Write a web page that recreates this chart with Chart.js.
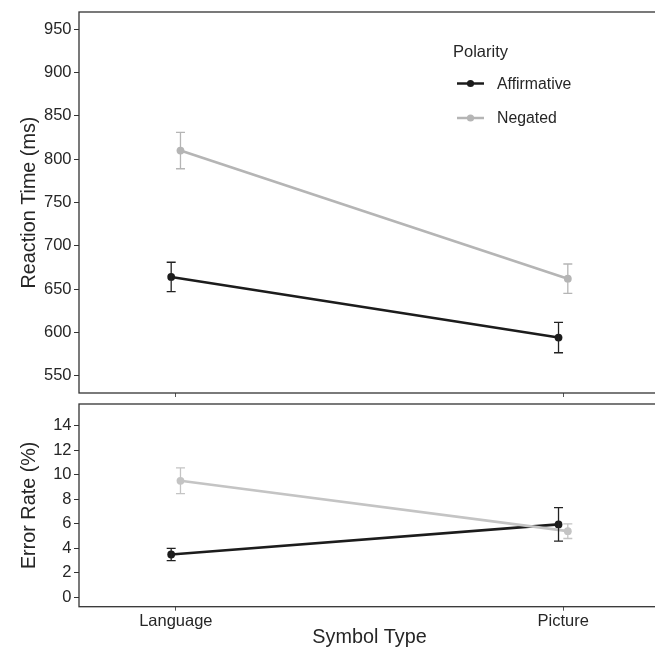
<!DOCTYPE html>
<html><head><meta charset="utf-8">
<script src="https://cdn.jsdelivr.net/npm/chart.js@4.4.1/dist/chart.umd.min.js"></script>
<style>
html,body{margin:0;padding:0;background:#fff;overflow:hidden;width:655px;height:651px}
#c1{position:absolute;left:0;top:0}
#c2{position:absolute;left:0;top:400px}
</style></head>
<body>
<canvas id="c1" width="680" height="400"></canvas>
<canvas id="c2" width="680" height="251"></canvas>
<script>
const categories = ['Language', 'Picture'];
const seriesNames = ['Affirmative', 'Negated'];
const legendTitle = 'Polarity';
// Reaction time (ms): means and error half-widths
const rtAffirmative = [664, 594];
const rtAffirmativeErr = [17, 17.5];
const rtNegated = [810, 662];
const rtNegatedErr = [21, 17];
// Error rate (%): means and error half-widths
const erAffirmative = [3.5, 5.95];
const erAffirmativeErr = [0.5, 1.37];
const erNegated = [9.5, 5.4];
const erNegatedErr = [1.05, 0.6];
const rtTicks = [550, 600, 650, 700, 750, 800, 850, 900, 950];
const erTicks = [0, 2, 4, 6, 8, 10, 12, 14];

const F = '"Liberation Sans", Arial, Helvetica, sans-serif';
const DODGE = 0.012;
const COL_AFF = '#1c1c1c';
const COL_NEG_TOP = '#b5b5b5';
const COL_NEG_BOT = '#c4c4c4';
const TXT = '#262626';

function pts(vals, offset) {
  return vals.map((v, i) => ({ x: i + 1 + offset, y: v }));
}

const errorBars = {
  id: 'errorBars',
  afterDatasetsDraw(chart) {
    const ctx = chart.ctx, ys = chart.scales.y;
    chart.data.datasets.forEach((ds, di) => {
      const meta = chart.getDatasetMeta(di);
      ctx.save();
      ctx.strokeStyle = ds.errColor;
      ctx.lineWidth = 1.3;
      ds.err.forEach((e, i) => {
        const pt = meta.data[i];
        const v = ds.data[i].y;
        const y1 = ys.getPixelForValue(v + e), y2 = ys.getPixelForValue(v - e);
        const x = pt.x;
        ctx.beginPath();
        ctx.moveTo(x, y1); ctx.lineTo(x, y2);
        ctx.moveTo(x - 4.5, y1); ctx.lineTo(x + 4.5, y1);
        ctx.moveTo(x - 4.5, y2); ctx.lineTo(x + 4.5, y2);
        ctx.stroke();
      });
      ctx.restore();
    });
  }
};

const box = {
  id: 'box',
  afterDraw(chart) {
    const a = chart.chartArea, c = chart.ctx;
    c.save();
    c.strokeStyle = '#333';
    c.lineWidth = 1.3;
    c.strokeRect(a.left, a.top, a.right - a.left, a.bottom - a.top);
    c.restore();
  }
};

const legendP = {
  id: 'legendP',
  afterDraw(chart) {
    const c = chart.ctx;
    c.save();
    c.fillStyle = TXT;
    c.textBaseline = 'middle';
    c.textAlign = 'left';
    c.font = '16.5px ' + F;
    c.fillText(legendTitle, 453, 52);
    chart.data.datasets.slice().sort((a, b) => a.legendIndex - b.legendIndex).forEach((ds, i) => {
      const y = 83.5 + i * 34.5;
      c.strokeStyle = ds.borderColor;
      c.lineWidth = 2.5;
      c.beginPath(); c.moveTo(457, y); c.lineTo(484, y); c.stroke();
      c.fillStyle = ds.borderColor;
      c.beginPath(); c.arc(470.5, y, 3.6, 0, Math.PI * 2); c.fill();
      c.fillStyle = TXT;
      c.font = '15.8px ' + F;
      c.fillText(ds.label, 497, y + 1);
    });
    c.restore();
  }
};

function makeDatasets(aff, affErr, neg, negErr, negCol) {
  return [
    { label: seriesNames[1], legendIndex: 1, data: pts(neg, DODGE), err: negErr, errColor: negCol,
      borderColor: negCol, backgroundColor: negCol, pointBackgroundColor: negCol,
      borderWidth: 2.6, pointRadius: 3.9, pointBorderWidth: 0, tension: 0 },
    { label: seriesNames[0], legendIndex: 0, data: pts(aff, -DODGE), err: affErr, errColor: '#222',
      borderColor: COL_AFF, backgroundColor: COL_AFF, pointBackgroundColor: COL_AFF,
      borderWidth: 2.6, pointRadius: 3.9, pointBorderWidth: 0, tension: 0 }
  ];
}

function xScale(showLabels, title) {
  return {
    type: 'linear', min: 0.75, max: 2.25,
    afterBuildTicks: s => { s.ticks = categories.map((c, i) => ({ value: i + 1 })); },
    afterFit: s => { s.height = showLabels ? 44.3 : 7; s.paddingLeft = 0; s.paddingRight = 0; },
    ticks: { display: showLabels, color: TXT, font: { size: 16.5, family: F }, padding: 0.5,
             callback: v => categories[Math.round(v) - 1] },
    grid: { drawOnChartArea: false, drawTicks: true, tickLength: 4, color: '#555', tickWidth: 1 },
    border: { display: false },
    title: { display: !!title, text: title || '', color: TXT, font: { size: 19.8, family: F }, padding: { top: 0, bottom: 1.2 } }
  };
}

function yScale(min, max, ticks, title) {
  return {
    type: 'linear', min: min, max: max,
    afterBuildTicks: s => { s.ticks = ticks.map(v => ({ value: v })); },
    afterFit: s => { s.width = 79; s.paddingTop = 0; s.paddingBottom = 0; },
    ticks: { color: TXT, font: { size: 16.5, family: F }, padding: 2.5 },
    grid: { drawOnChartArea: false, drawTicks: true, tickLength: 5, color: '#333', tickWidth: 1 },
    border: { display: false },
    title: { display: true, text: title, color: TXT, font: { size: 19.8, family: F }, padding: { top: 18, bottom: 0 } }
  };
}

const common = {
  responsive: false, animation: false, devicePixelRatio: 1,
  plugins: { legend: { display: false }, tooltip: { enabled: false } }
};

new Chart(document.getElementById('c1'), {
  type: 'line',
  data: { datasets: makeDatasets(rtAffirmative, rtAffirmativeErr, rtNegated, rtNegatedErr, COL_NEG_TOP) },
  options: Object.assign({}, common, {
    layout: { padding: { top: 12, right: 20, bottom: 0, left: 0 } },
    scales: { x: xScale(false, null), y: yScale(530, 970, rtTicks, 'Reaction Time (ms)') }
  }),
  plugins: [errorBars, box, legendP]
});

new Chart(document.getElementById('c2'), {
  type: 'line',
  data: { datasets: makeDatasets(erAffirmative, erAffirmativeErr, erNegated, erNegatedErr, COL_NEG_BOT) },
  options: Object.assign({}, common, {
    layout: { padding: { top: 1, right: 20, bottom: 0, left: 0 } },
    scales: { x: xScale(true, 'Symbol Type'), y: yScale(-0.75, 15.75, erTicks, 'Error Rate (%)') }
  }),
  plugins: [errorBars, box]
});
</script>
</body></html>
